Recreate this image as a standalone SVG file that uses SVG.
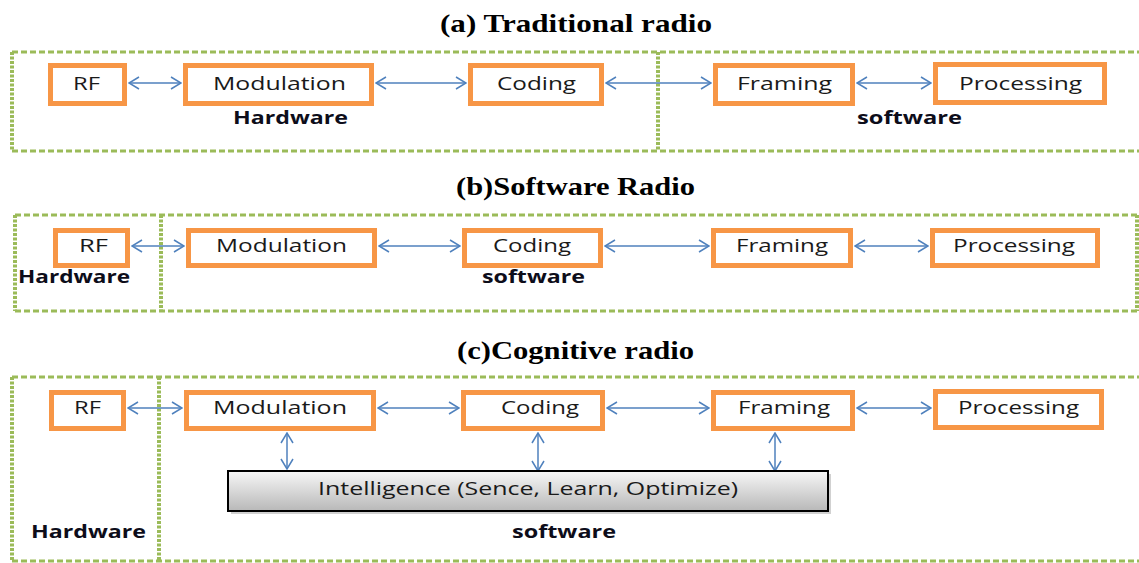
<svg xmlns="http://www.w3.org/2000/svg" width="1139" height="563" viewBox="0 0 1139 563">
<defs>
<style>
.title{font-family:"Liberation Serif","Times New Roman",serif;font-weight:bold;font-size:26px;fill:#000}
.node rect{fill:#fff;stroke:#F79646;stroke-width:5}
.lbl{font-family:"Open Sans","DejaVu Sans",sans-serif;font-size:18px;fill:#1a1a1a}
.grp{font-family:"Open Sans","DejaVu Sans",sans-serif;font-size:18px;font-weight:bold;fill:#0d0d1a}
.dh{stroke:#9BBB59;stroke-width:3;stroke-dasharray:6 3;fill:none}
.dv{stroke:#9BBB59;stroke-width:4;stroke-dasharray:3 1.5;fill:none}
.conn line{stroke:#4F81BD;stroke-width:1.5;marker-start:url(#ah);marker-end:url(#ah)}
</style>
<marker id="ah" viewBox="0 0 12 14" refX="11" refY="7" markerWidth="12" markerHeight="14" markerUnits="userSpaceOnUse" orient="auto-start-reverse">
<path d="M1,1 L11,7 L1,13" fill="none" stroke="#4F81BD" stroke-width="1.5"/>
</marker>
<linearGradient id="gg" x1="0" y1="0" x2="0" y2="1">
<stop offset="0" stop-color="#f7f7f7"/>
<stop offset="1" stop-color="#b8b8b8"/>
</linearGradient>
</defs>
<rect width="1139" height="563" fill="#fff"/>

<!-- Titles -->
<text class="title" x="440" y="32" textLength="272" lengthAdjust="spacingAndGlyphs">(a) Traditional radio</text>
<text class="title" x="456" y="195" textLength="239" lengthAdjust="spacingAndGlyphs">(b)Software Radio</text>
<text class="title" x="457" y="359" textLength="237" lengthAdjust="spacingAndGlyphs">(c)Cognitive radio</text>

<!-- Group outlines -->
<g id="frames">
<line class="dh" x1="12" y1="52" x2="1139" y2="52"/>
<line class="dh" x1="12" y1="151" x2="1139" y2="151"/>
<line class="dv" x1="12" y1="52" x2="12" y2="151"/>
<line class="dv" x1="658" y1="52" x2="658" y2="151"/>

<line class="dh" x1="15" y1="215" x2="1137" y2="215"/>
<line class="dh" x1="15" y1="311" x2="1137" y2="311"/>
<line class="dv" x1="15" y1="215" x2="15" y2="311"/>
<line class="dv" x1="161" y1="215" x2="161" y2="311"/>
<line class="dv" x1="1137" y1="215" x2="1137" y2="311"/>

<line class="dh" x1="12" y1="377" x2="1139" y2="377"/>
<line class="dh" x1="12" y1="561" x2="1139" y2="561"/>
<line class="dv" x1="12" y1="377" x2="12" y2="561"/>
<line class="dv" x1="159" y1="377" x2="159" y2="561"/>
</g>

<!-- Group labels -->
<text class="grp" x="233" y="124" textLength="115" lengthAdjust="spacingAndGlyphs">Hardware</text>
<text class="grp" x="857" y="124" textLength="105" lengthAdjust="spacingAndGlyphs">software</text>
<text class="grp" x="18" y="283" textLength="112" lengthAdjust="spacingAndGlyphs">Hardware</text>
<text class="grp" x="482" y="283" textLength="103" lengthAdjust="spacingAndGlyphs">software</text>
<text class="grp" x="31" y="538" textLength="115" lengthAdjust="spacingAndGlyphs">Hardware</text>
<text class="grp" x="512" y="538" textLength="104" lengthAdjust="spacingAndGlyphs">software</text>

<!-- Connectors -->
<g id="connectors" class="conn">
<line x1="129" y1="83" x2="181" y2="83"/>
<line x1="376" y1="83" x2="466" y2="83"/>
<line x1="606" y1="83" x2="711" y2="83"/>
<line x1="857" y1="83" x2="931" y2="83"/>

<line x1="132" y1="246" x2="184" y2="246"/>
<line x1="379" y1="246" x2="460" y2="246"/>
<line x1="605" y1="246" x2="709" y2="246"/>
<line x1="855" y1="246" x2="928" y2="246"/>

<line x1="128" y1="408" x2="182" y2="408"/>
<line x1="378" y1="408" x2="459" y2="408"/>
<line x1="607" y1="408" x2="709" y2="408"/>
<line x1="857" y1="408" x2="931" y2="408"/>

<line x1="287" y1="433" x2="287" y2="469"/>
<line x1="538" y1="433" x2="538" y2="471"/>
<line x1="775" y1="433" x2="775" y2="471"/>
</g>

<!-- (a) nodes -->
<g id="a-rf" class="node"><rect x="50.5" y="65.5" width="74" height="38"/><text class="lbl" x="73" y="90" textLength="27" lengthAdjust="spacingAndGlyphs">RF</text></g>
<g id="a-mod" class="node"><rect x="185.5" y="65.5" width="186" height="38"/><text class="lbl" x="213" y="90" textLength="133" lengthAdjust="spacingAndGlyphs">Modulation</text></g>
<g id="a-cod" class="node"><rect x="470.5" y="65.5" width="131" height="38"/><text class="lbl" x="497" y="90" textLength="79" lengthAdjust="spacingAndGlyphs">Coding</text></g>
<g id="a-fra" class="node"><rect x="715.5" y="65.5" width="137" height="38"/><text class="lbl" x="737" y="90" textLength="95" lengthAdjust="spacingAndGlyphs">Framing</text></g>
<g id="a-pro" class="node"><rect x="935.5" y="64.5" width="169" height="38"/><text class="lbl" x="959" y="90" textLength="123" lengthAdjust="spacingAndGlyphs">Processing</text></g>

<!-- (b) nodes -->
<g id="b-rf" class="node"><rect x="55.5" y="230.5" width="72" height="35"/><text class="lbl" x="79" y="252" textLength="29" lengthAdjust="spacingAndGlyphs">RF</text></g>
<g id="b-mod" class="node"><rect x="188.5" y="230.5" width="186" height="35"/><text class="lbl" x="216" y="252" textLength="131" lengthAdjust="spacingAndGlyphs">Modulation</text></g>
<g id="b-cod" class="node"><rect x="464.5" y="230.5" width="136" height="35"/><text class="lbl" x="493" y="252" textLength="78" lengthAdjust="spacingAndGlyphs">Coding</text></g>
<g id="b-fra" class="node"><rect x="713.5" y="230.5" width="137" height="35"/><text class="lbl" x="736" y="252" textLength="92" lengthAdjust="spacingAndGlyphs">Framing</text></g>
<g id="b-pro" class="node"><rect x="932.5" y="230.5" width="165" height="35"/><text class="lbl" x="953" y="252" textLength="122" lengthAdjust="spacingAndGlyphs">Processing</text></g>

<!-- (c) nodes -->
<g id="c-rf" class="node"><rect x="51.5" y="392.5" width="72" height="36"/><text class="lbl" x="74" y="414" textLength="27" lengthAdjust="spacingAndGlyphs">RF</text></g>
<g id="c-mod" class="node"><rect x="186.5" y="392.5" width="187" height="36"/><text class="lbl" x="213" y="414" textLength="134" lengthAdjust="spacingAndGlyphs">Modulation</text></g>
<g id="c-cod" class="node"><rect x="463.5" y="392.5" width="139" height="36"/><text class="lbl" x="501" y="414" textLength="78" lengthAdjust="spacingAndGlyphs">Coding</text></g>
<g id="c-fra" class="node"><rect x="713.5" y="392.5" width="139" height="36"/><text class="lbl" x="738" y="414" textLength="92" lengthAdjust="spacingAndGlyphs">Framing</text></g>
<g id="c-pro" class="node"><rect x="935.5" y="391.5" width="166" height="36"/><text class="lbl" x="958" y="414" textLength="121" lengthAdjust="spacingAndGlyphs">Processing</text></g>

<!-- Intelligence -->
<g id="c-int">
<rect x="231" y="474" width="600" height="40" fill="#000" opacity="0.18"/>
<rect x="228" y="471" width="600" height="40" fill="url(#gg)" stroke="#000" stroke-width="2"/>
<text class="lbl" x="318" y="495" textLength="420" lengthAdjust="spacingAndGlyphs">Intelligence (Sence, Learn, Optimize)</text>
</g>
</svg>
